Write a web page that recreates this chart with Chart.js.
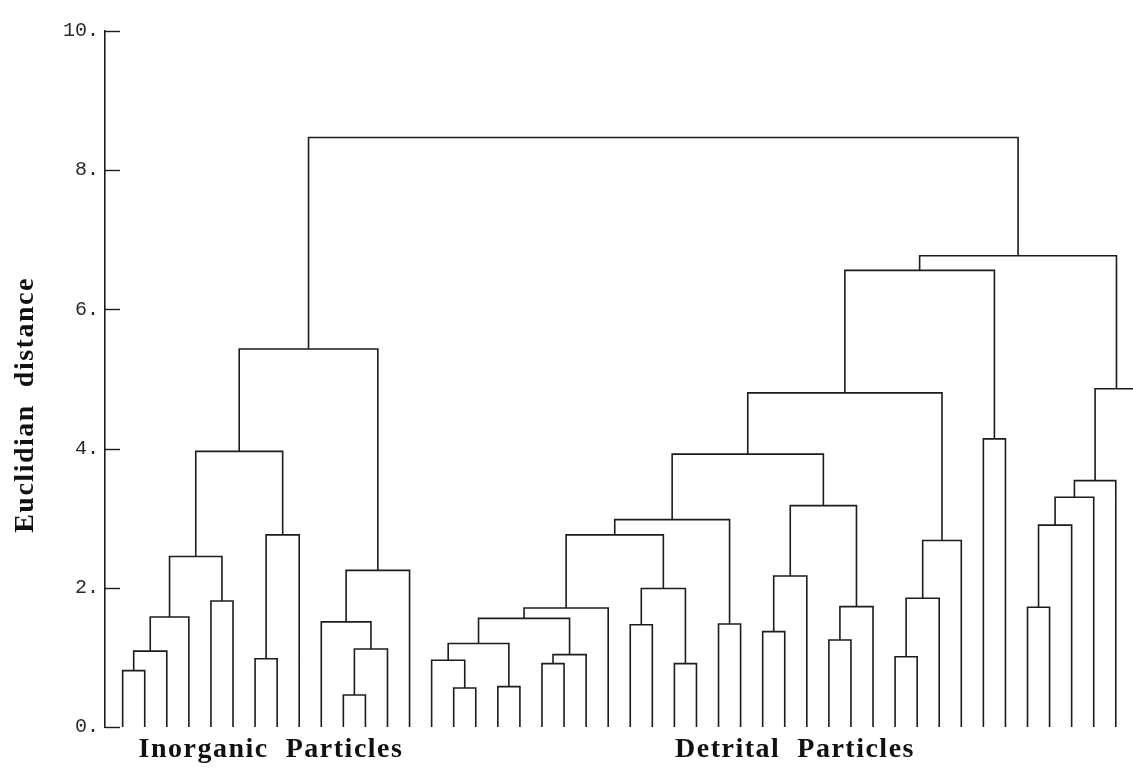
<!DOCTYPE html>
<html>
<head>
<meta charset="utf-8">
<title>Dendrogram</title>
<script src="https://cdn.jsdelivr.net/npm/chart.js@4.4.0/dist/chart.umd.min.js"></script>
<style>
  html, body { margin: 0; padding: 0; background: #fff; }
  #wrap { width: 1133px; height: 774px; position: relative; }
</style>
</head>
<body>
<div id="wrap"><canvas id="dendro"></canvas></div>
<script>
// Leaves are numbered 0..46 from left to right; leaf 46 sits past the right edge (cut off like the scan)
const leafCount = 47;

// Linkage table, one row per merge: node ids < leafCount are leaves,
// higher ids point to earlier merges (leafCount + row)
const mergeLeft = [
  0, 47, 48, 4, 49, 6, 52, 51, 10, 55, 9, 57, 54,
  15, 14, 17, 61, 19, 64, 63, 66, 23, 25, 68, 67, 27, 71,
  29, 74, 32, 76, 75, 73, 35, 80, 81, 79, 39, 83,
  41, 86, 87, 88, 89, 85, 59
];
const mergeRight = [
  1, 2, 3, 5, 50, 7, 8, 53, 11, 12, 56, 13, 58,
  16, 60, 18, 62, 20, 21, 65, 22, 24, 26, 69, 70, 28, 72,
  30, 31, 33, 34, 77, 78, 36, 37, 38, 82, 40, 84,
  42, 43, 44, 45, 46, 90, 91
];
const mergeHeight = [
  0.81, 1.09, 1.58, 1.81, 2.45, 0.98, 2.76, 3.96, 0.46, 1.12, 1.51, 2.25, 5.43,
  0.56, 0.96, 0.58, 1.20, 0.91, 1.04, 1.56, 1.71, 1.47, 0.91, 1.99, 2.76, 1.48, 2.98,
  1.37, 2.17, 1.25, 1.73, 3.18, 3.92, 1.01, 1.85, 2.68, 4.80, 4.14, 6.56,
  1.72, 2.90, 3.30, 3.54, 4.86, 6.77, 8.47
];

const yTicks = [0, 2, 4, 6, 8, 10];
const groupLabels = ["Inorganic  Particles", "Detrital  Particles"];
const axisTitle = "Euclidian  distance";

// work out where each node sits
const nodeX = [];
const nodeH = [];
for (let i = 0; i < leafCount; i++) {
  nodeX.push(i);
  nodeH.push(0);
}
const datasets = [];
mergeHeight.forEach((h, k) => {
  const a = mergeLeft[k];
  const b = mergeRight[k];
  nodeX.push((nodeX[a] + nodeX[b]) / 2);
  nodeH.push(h);
  datasets.push({
    data: [
      { x: nodeX[a], y: nodeH[a] },
      { x: nodeX[a], y: h },
      { x: nodeX[b], y: h },
      { x: nodeX[b], y: nodeH[b] },
    ],
    showLine: true,
    borderColor: "#1c1c1c",
    borderWidth: 1.6,
    pointRadius: 0,
    tension: 0,
    fill: false,
  });
});

// short tick marks pointing into the plot, like the original
const innerTicks = {
  id: "innerTicks",
  afterDraw(chart) {
    const ctx = chart.ctx;
    const ys = chart.scales.y;
    ctx.save();
    ctx.strokeStyle = "#1c1c1c";
    ctx.lineWidth = 1.4;
    yTicks.forEach((t) => {
      const py = Math.round(ys.getPixelForValue(t)) + 0.5;
      ctx.beginPath();
      ctx.moveTo(ys.right, py);
      ctx.lineTo(ys.right + 15, py);
      ctx.stroke();
    });
    ctx.restore();
  },
};

// group names under the leaves and the rotated axis title
const textLabels = {
  id: "textLabels",
  afterDraw(chart) {
    const ctx = chart.ctx;
    ctx.save();
    ctx.fillStyle = "#111";
    ctx.font = "bold 28px 'Liberation Serif', 'Times New Roman', serif";
    ctx.letterSpacing = "1.5px";
    ctx.textAlign = "center";
    ctx.textBaseline = "alphabetic";
    ctx.fillText(groupLabels[0], 271, 757);
    ctx.fillText(groupLabels[1], 795, 757);
    ctx.translate(33, 405);
    ctx.rotate(-Math.PI / 2);
    ctx.fillText(axisTitle, 0, 0);
    ctx.restore();
  },
};

new Chart(document.getElementById("dendro").getContext("2d"), {
  type: "scatter",
  data: { datasets: datasets },
  options: {
    responsive: true,
    maintainAspectRatio: false,
    animation: false,
    layout: { padding: { top: 31, bottom: 47, left: 0, right: 0 } },
    plugins: {
      legend: { display: false },
      tooltip: { enabled: false },
    },
    scales: {
      x: {
        type: "linear",
        min: -0.8,
        max: 45.78,
        display: false,
      },
      y: {
        type: "linear",
        min: 0,
        max: 10,
        afterFit(scale) {
          scale.width = 105;
        },
        afterBuildTicks(scale) {
          scale.ticks = yTicks.map((v) => ({ value: v }));
        },
        ticks: {
          callback: (v) => v + ".",
          color: "#2a2a2a",
          padding: 6,
          font: { family: "'Liberation Mono', 'Courier New', monospace", size: 20 },
        },
        grid: { drawOnChartArea: false, drawTicks: false },
        border: { display: true, color: "#1c1c1c", width: 1.6 },
      },
    },
  },
  plugins: [innerTicks, textLabels],
});
</script>
</body>
</html>
